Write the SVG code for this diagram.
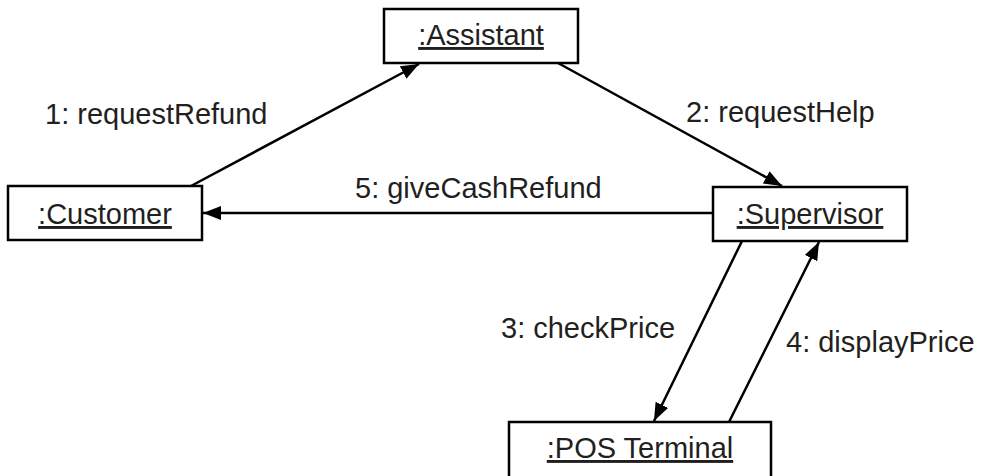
<svg xmlns="http://www.w3.org/2000/svg" width="981" height="476" viewBox="0 0 981 476">
<style>
.box{fill:#fff;stroke:#000;stroke-width:2.5}
.t{font-family:"Liberation Sans",Arial,Helvetica,sans-serif;font-size:29px;fill:#231f20}
.n{text-anchor:middle;text-decoration:underline}
.c{stroke:#000;stroke-width:2.5;fill:none;marker-end:url(#ah)}
</style>
<defs>
<marker id="ah" markerUnits="userSpaceOnUse" markerWidth="20" markerHeight="16" refX="18" refY="7" orient="auto">
<path d="M0,0 L18,7 L0,14 Z" fill="#000"/>
</marker>
</defs>
<g id="connectors">
<line class="c" x1="191" y1="186" x2="419" y2="64"/>
<line class="c" x1="558" y1="63" x2="782" y2="186"/>
<line class="c" x1="713" y1="213" x2="203" y2="213"/>
<line class="c" x1="742" y1="241" x2="654" y2="421"/>
<line class="c" x1="729" y1="422" x2="819" y2="242"/>
<text class="t" x="45" y="124">1: requestRefund</text>
<text class="t" x="686" y="122">2: requestHelp</text>
<text class="t" x="355" y="198">5: giveCashRefund</text>
<text class="t" x="501" y="338">3: checkPrice</text>
<text class="t" x="786" y="352">4: displayPrice</text>
</g>
<g id="assistant">
<rect class="box" x="384" y="9" width="194" height="54"/>
<text class="t n" x="481" y="45">:Assistant</text>
</g>
<g id="customer">
<rect class="box" x="8" y="186" width="194" height="54"/>
<text class="t n" x="105" y="224">:Customer</text>
</g>
<g id="supervisor">
<rect class="box" x="713" y="187" width="194" height="54"/>
<text class="t n" x="810" y="224">:Supervisor</text>
</g>
<g id="pos">
<rect class="box" x="509" y="422" width="262" height="56"/>
<text class="t n" x="640" y="458">:POS Terminal</text>
</g>
</svg>
